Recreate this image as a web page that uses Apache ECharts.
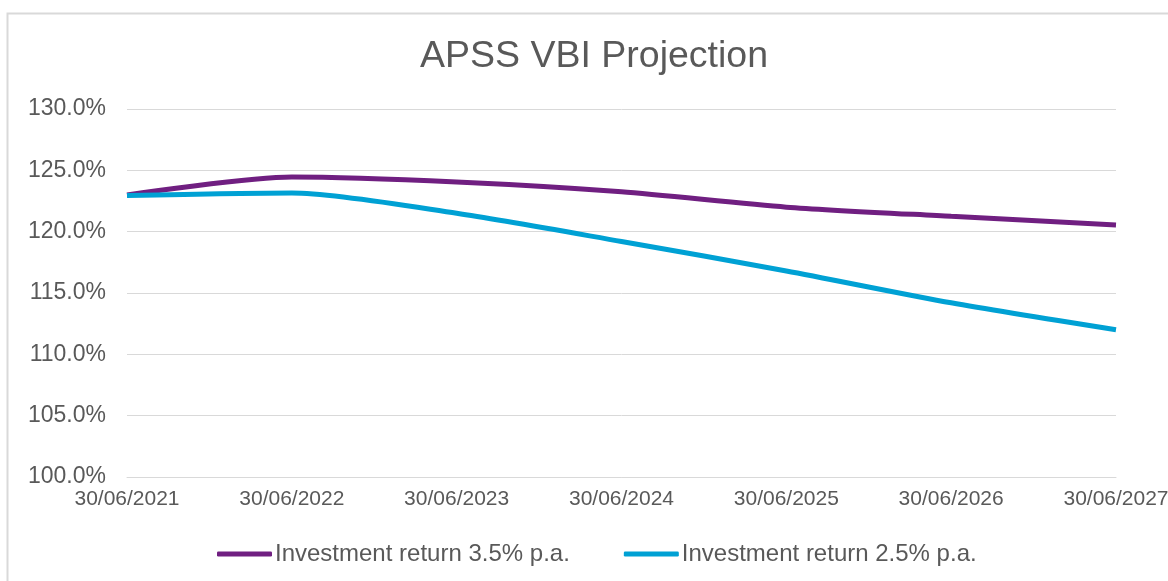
<!DOCTYPE html>
<html>
<head>
<meta charset="utf-8">
<script src="https://cdn.jsdelivr.net/npm/echarts@6/dist/echarts.min.js"></script>
<style>
  html, body { margin: 0; padding: 0; background: #fff; }
  #chart { width: 1168px; height: 581px; }
</style>
</head>
<body>
<div id="chart"></div>
<script>
// data
const dates = ['30/06/2021', '30/06/2022', '30/06/2023', '30/06/2024', '30/06/2025', '30/06/2026', '30/06/2027'];
const return35 = [123.0, 124.45, 124.05, 123.25, 122.0, 121.25, 120.55];
const return25 = [122.95, 123.15, 121.5, 119.2, 116.8, 114.2, 112.0];
const seriesNames = ['Investment return 3.5% p.a.', 'Investment return 2.5% p.a.'];

const chart = echarts.init(document.getElementById('chart'));

chart.setOption({
  animation: false,
  textStyle: { fontFamily: 'Liberation Sans' },
  title: {
    text: 'APSS VBI Projection',
    left: 415,
    top: 33,
    textStyle: { color: '#595959', fontSize: 37.5, fontWeight: 'normal' }
  },
  graphic: [{
    type: 'rect',
    shape: { x: 7.5, y: 13.5, width: 1300, height: 700 },
    style: { fill: 'none', stroke: '#d9d9d9', lineWidth: 2 },
    silent: true
  }],
  grid: { left: 127, right: 52, top: 109, bottom: 104, outerBoundsMode: 'none' },
  xAxis: {
    type: 'category',
    data: dates,
    boundaryGap: false,
    axisLine: { show: true, lineStyle: { color: '#d9d9d9', width: 1 } },
    axisTick: { show: false },
    axisLabel: { color: '#595959', fontSize: 21, margin: 12, interval: 0 }
  },
  yAxis: {
    type: 'value',
    min: 100,
    max: 130,
    interval: 5,
    axisLine: { show: false },
    axisTick: { show: false },
    splitLine: { lineStyle: { color: '#d9d9d9', width: 1 } },
    axisLabel: {
      color: '#595959',
      fontSize: 23,
      margin: 21,
      formatter: v => v.toFixed(1) + '%'
    }
  },
  legend: {
    left: 212,
    top: 537,
    itemWidth: 55,
    itemHeight: 5,
    itemGap: 54,
    icon: 'roundRect',
    textStyle: { color: '#595959', fontSize: 24, padding: [0, 0, 0, -2] },
    data: seriesNames
  },
  series: [
    {
      name: seriesNames[0],
      type: 'line',
      data: return35,
      smooth: 0.25,
      symbol: 'none',
      lineStyle: { color: '#701f81', width: 5 },
      itemStyle: { color: '#701f81' }
    },
    {
      name: seriesNames[1],
      type: 'line',
      data: return25,
      smooth: 0.25,
      symbol: 'none',
      lineStyle: { color: '#00a1d4', width: 5 },
      itemStyle: { color: '#00a1d4' }
    }
  ]
});
</script>
</body>
</html>
